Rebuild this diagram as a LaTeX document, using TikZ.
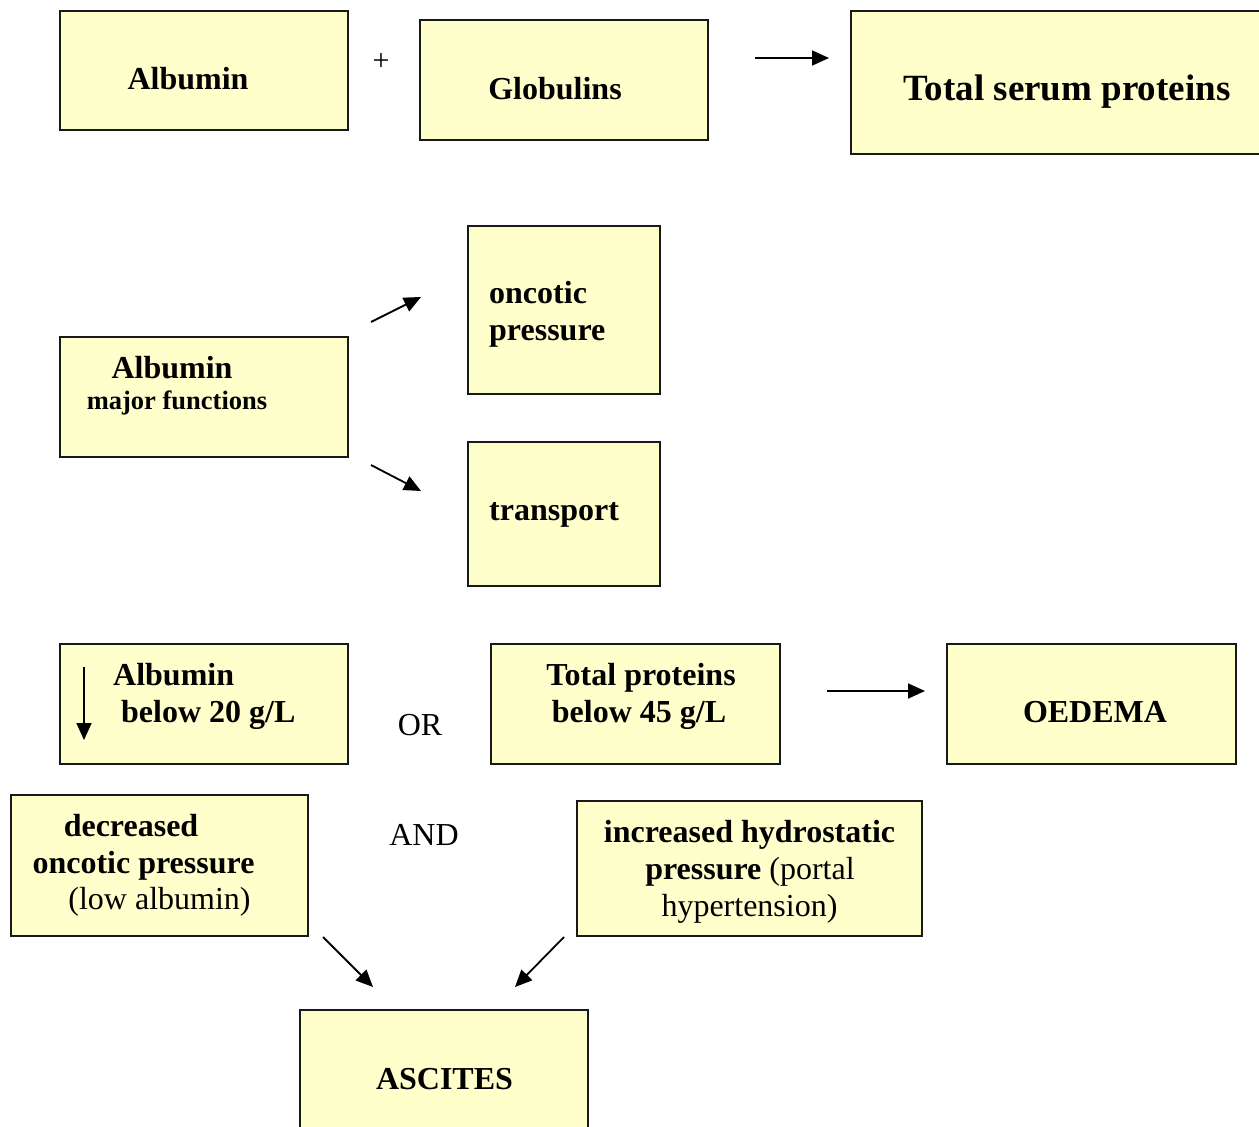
\documentclass[tikz,border=0pt]{standalone}
\usepackage{fontspec}
\setmainfont{Liberation Serif}
\usetikzlibrary{arrows.meta,fit}
\definecolor{boxfill}{HTML}{FFFFCC}
\tikzset{
  box/.style={draw=black!90, line width=1.6pt, fill=boxfill, inner sep=0pt},
  bt/.style={font=\fontsize{32}{37}\selectfont\bfseries, inner sep=0pt, anchor=base},
  btl/.style={bt, anchor=base west},
  rt/.style={font=\fontsize{32}{37}\selectfont, inner sep=0pt, anchor=base},
  conn/.style={line width=1.8pt, -{Triangle[length=17pt,width=15pt]}}
}
\begin{document}
\begin{tikzpicture}[x=1pt,y=-1pt]
\useasboundingbox (0,0) rectangle (1259,1127);
% boxes
\node[box, fit={(60,11) (348,130)}] (alb) {};
\node[box, fit={(420,20) (708,140)}] (glob) {};
\node[box, fit={(851,11) (1262,154)}] (tsp) {};
\node[box, fit={(468,226) (660,394)}] (onc) {};
\node[box, fit={(60,337) (348,457)}] (albf) {};
\node[box, fit={(468,442) (660,586)}] (trans) {};
\node[box, fit={(60,644) (348,764)}] (albl) {};
\node[box, fit={(491,644) (780,764)}] (tp) {};
\node[box, fit={(947,644) (1236,764)}] (oed) {};
\node[box, fit={(11,795) (308,936)}] (decr) {};
\node[box, fit={(577,801) (922,936)}] (incr) {};
\node[box, fit={(300,1010) (588,1132)}] (asc) {};
% texts
\node[bt] (talb) at (188,89) {Albumin};
\node[font=\fontsize{30}{34}\selectfont, inner sep=0pt] (plus) at (381,62) {+};
\node[bt] (tglob) at (555,99) {Globulins};
\node[bt, font=\fontsize{37}{42}\selectfont\bfseries] (ttsp) at (1067,100) {Total serum proteins};
\node[btl] (tonc1) at (489,303) {oncotic};
\node[btl] (tonc2) at (489,340) {pressure};
\node[bt] (talbf1) at (172,378) {Albumin};
\node[bt, font=\fontsize{26.5}{30}\selectfont\bfseries] (talbf2) at (177,409) {major functions};
\node[btl] (ttrans) at (489,520) {transport};
\node[btl] (talbl1) at (113,685) {Albumin};
\node[btl] (talbl2) at (121,722) {below 20 g/L};
\node[rt] (tor) at (420,735) {OR};
\node[bt] (ttp1) at (641,685) {Total proteins};
\node[bt] (ttp2) at (639,722) {below 45 g/L};
\node[bt] (toed) at (1095,722) {OEDEMA};
\node[bt] (tdecr1) at (131,836) {decreased};
\node[bt] (tdecr2) at (143.5,873) {oncotic pressure};
\node[rt] (tdecr3) at (159.5,909) {(low albumin)};
\node[rt] (tand) at (424,845) {AND};
\node[bt] (tincr1) at (749.5,842) {increased hydrostatic};
\node[rt] (tincr2) at (750,879) {\textbf{pressure} (portal};
\node[rt] (tincr3) at (749.5,916) {hypertension)};
\node[bt] (tasc) at (444.5,1089) {ASCITES};
% arrow end points
\coordinate (a1s) at (755,58);  \coordinate (a1e) at (829,58);
\coordinate (a2s) at (371,322); \coordinate (a2e) at (421,297);
\coordinate (a3s) at (371,465); \coordinate (a3e) at (421,491);
\coordinate (a4s) at (827,691); \coordinate (a4e) at (925,691);
\coordinate (a5s) at (323,937); \coordinate (a5e) at (373,987);
\coordinate (a6s) at (564,937); \coordinate (a6e) at (515,987);
\coordinate (a7s) at (84,667);  \coordinate (a7e) at (84,740);
\draw[conn] (a1s) -- (a1e);
\draw[conn] (a2s) -- (a2e);
\draw[conn] (a3s) -- (a3e);
\draw[conn] (a4s) -- (a4e);
\draw[conn] (a5s) -- (a5e);
\draw[conn] (a6s) -- (a6e);
\draw[conn] (a7s) -- (a7e);
\end{tikzpicture}
\end{document}
